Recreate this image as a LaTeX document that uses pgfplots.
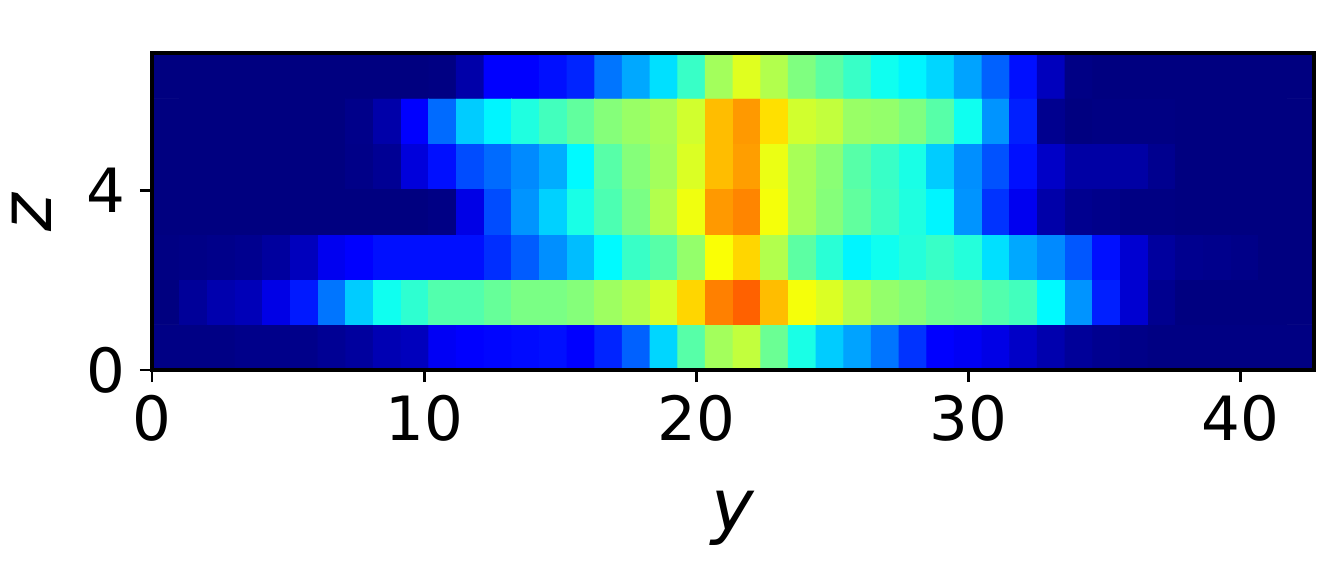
\documentclass[border=0pt]{standalone}
\usepackage{pgfplots}
\usepackage{fontspec}
\setmainfont{DejaVu Sans}
\pgfplotsset{compat=1.18}
\begin{document}
\begin{tikzpicture}
\path[use as bounding box] (-76pt,-105pt) rectangle (588pt,185pt);
\begin{axis}[
  scale only axis, width=581pt, height=158.5pt,
  xmin=0, xmax=42.7, ymin=0, ymax=7.05,
  axis on top, axis line style={line width=1.7pt},
  xtick={0,10,20,30,40}, ytick={0,4},
  tick align=outside, xtick pos=bottom, ytick pos=left,
  major tick style={line width=1.4pt, black},
  major tick length=6pt,
  /pgf/number format/assume math mode=true,
  tick label style={font=\fontsize{30.5}{30.5}\selectfont},
  xticklabel style={yshift=-3pt},
  yticklabel style={xshift=-4pt},
  xlabel={\textit{y}}, ylabel={\textit{z}},
  label style={font=\fontsize{36}{36}\selectfont},
  xlabel style={at={(axis description cs:0.5,0)},anchor=center,yshift=-74pt},
  ylabel style={at={(axis description cs:0,0.5)},anchor=center,yshift=60pt},
  colormap/jet, point meta min=0, point meta max=1,
]
\addplot[matrix plot*, mesh/cols=42, mesh/rows=7, point meta=explicit] coordinates {
(0.51,0.504)[.005] (1.53,0.504)[.005] (2.54,0.504)[.005] (3.56,0.504)[.01] (4.58,0.504)[.01] (5.59,0.504)[.01] (6.61,0.504)[.02] (7.63,0.504)[.03] (8.64,0.504)[.05] (9.66,0.504)[.06] (10.68,0.504)[.115] (11.69,0.504)[.125] (12.71,0.504)[.13] (13.73,0.504)[.135] (14.74,0.504)[.14] (15.76,0.504)[.125] (16.78,0.504)[.16] (17.79,0.504)[.22] (18.81,0.504)[.335] (19.83,0.504)[.46] (20.84,0.504)[.535] (21.86,0.504)[.565] (22.88,0.504)[.48] (23.89,0.504)[.4] (24.91,0.504)[.325] (25.93,0.504)[.285] (26.94,0.504)[.24] (27.96,0.504)[.175] (28.98,0.504)[.125] (29.99,0.504)[.115] (31.01,0.504)[.1] (32.03,0.504)[.07] (33.04,0.504)[.045] (34.06,0.504)[.025] (35.08,0.504)[.015] (36.09,0.504)[.008] (37.11,0.504)[.003] (38.13,0.504)[.003] (39.14,0.504)[.003] (40.16,0.504)[.003] (41.18,0.504)[.003] (42.19,0.504)[.003]
(0.51,1.511)[0] (1.53,1.511)[.025] (2.54,1.511)[.045] (3.56,1.511)[.055] (4.58,1.511)[.1] (5.59,1.511)[.15] (6.61,1.511)[.24] (7.63,1.511)[.325] (8.64,1.511)[.39] (9.66,1.511)[.42] (10.68,1.511)[.455] (11.69,1.511)[.455] (12.71,1.511)[.475] (13.73,1.511)[.495] (14.74,1.511)[.495] (15.76,1.511)[.505] (16.78,1.511)[.53] (17.79,1.511)[.55] (18.81,1.511)[.585] (19.83,1.511)[.665] (20.84,1.511)[.75] (21.86,1.511)[.78] (22.88,1.511)[.69] (23.89,1.511)[.615] (24.91,1.511)[.59] (25.93,1.511)[.55] (26.94,1.511)[.52] (27.96,1.511)[.505] (28.98,1.511)[.485] (29.99,1.511)[.48] (31.01,1.511)[.455] (32.03,1.511)[.44] (33.04,1.511)[.37] (34.06,1.511)[.27] (35.08,1.511)[.155] (36.09,1.511)[.08] (37.11,1.511)[.015] (38.13,1.511)[0] (39.14,1.511)[0] (40.16,1.511)[0] (41.18,1.511)[0] (42.19,1.511)[0]
(0.51,2.518)[.003] (1.53,2.518)[.006] (2.54,2.518)[.01] (3.56,2.518)[.015] (4.58,2.518)[.03] (5.59,2.518)[.06] (6.61,2.518)[.11] (7.63,2.518)[.125] (8.64,2.518)[.14] (9.66,2.518)[.14] (10.68,2.518)[.14] (11.69,2.518)[.14] (12.71,2.518)[.17] (13.73,2.518)[.215] (14.74,2.518)[.265] (15.76,2.518)[.31] (16.78,2.518)[.37] (17.79,2.518)[.43] (18.81,2.518)[.46] (19.83,2.518)[.52] (20.84,2.518)[.62] (21.86,2.518)[.665] (22.88,2.518)[.55] (23.89,2.518)[.465] (24.91,2.518)[.415] (25.93,2.518)[.365] (26.94,2.518)[.39] (27.96,2.518)[.41] (28.98,2.518)[.43] (29.99,2.518)[.41] (31.01,2.518)[.345] (32.03,2.518)[.29] (33.04,2.518)[.26] (34.06,2.518)[.21] (35.08,2.518)[.14] (36.09,2.518)[.08] (37.11,2.518)[.03] (38.13,2.518)[.015] (39.14,2.518)[.012] (40.16,2.518)[.008] (41.18,2.518)[0] (42.19,2.518)[0]
(0.51,3.525)[0] (1.53,3.525)[0] (2.54,3.525)[0] (3.56,3.525)[0] (4.58,3.525)[0] (5.59,3.525)[0] (6.61,3.525)[0] (7.63,3.525)[0] (8.64,3.525)[0] (9.66,3.525)[0] (10.68,3.525)[.005] (11.69,3.525)[.1] (12.71,3.525)[.2] (13.73,3.525)[.27] (14.74,3.525)[.33] (15.76,3.525)[.4] (16.78,3.525)[.45] (17.79,3.525)[.495] (18.81,3.525)[.55] (19.83,3.525)[.61] (20.84,3.525)[.725] (21.86,3.525)[.745] (22.88,3.525)[.615] (23.89,3.525)[.54] (24.91,3.525)[.505] (25.93,3.525)[.47] (26.94,3.525)[.435] (27.96,3.525)[.405] (28.98,3.525)[.365] (29.99,3.525)[.27] (31.01,3.525)[.175] (32.03,3.525)[.11] (33.04,3.525)[.04] (34.06,3.525)[.015] (35.08,3.525)[.01] (36.09,3.525)[.003] (37.11,3.525)[.003] (38.13,3.525)[0] (39.14,3.525)[0] (40.16,3.525)[0] (41.18,3.525)[0] (42.19,3.525)[0]
(0.51,4.532)[0] (1.53,4.532)[0] (2.54,4.532)[0] (3.56,4.532)[0] (4.58,4.532)[0] (5.59,4.532)[0] (6.61,4.532)[0] (7.63,4.532)[.008] (8.64,4.532)[.02] (9.66,4.532)[.09] (10.68,4.532)[.14] (11.69,4.532)[.2] (12.71,4.532)[.23] (13.73,4.532)[.26] (14.74,4.532)[.295] (15.76,4.532)[.37] (16.78,4.532)[.46] (17.79,4.532)[.505] (18.81,4.532)[.535] (19.83,4.532)[.59] (20.84,4.532)[.69] (21.86,4.532)[.72] (22.88,4.532)[.605] (23.89,4.532)[.54] (24.91,4.532)[.51] (25.93,4.532)[.46] (26.94,4.532)[.43] (27.96,4.532)[.4] (28.98,4.532)[.325] (29.99,4.532)[.265] (31.01,4.532)[.205] (32.03,4.532)[.14] (33.04,4.532)[.07] (34.06,4.532)[.035] (35.08,4.532)[.035] (36.09,4.532)[.035] (37.11,4.532)[.015] (38.13,4.532)[0] (39.14,4.532)[0] (40.16,4.532)[0] (41.18,4.532)[0] (42.19,4.532)[0]
(0.51,5.539)[0] (1.53,5.539)[0] (2.54,5.539)[0] (3.56,5.539)[0] (4.58,5.539)[0] (5.59,5.539)[0] (6.61,5.539)[0] (7.63,5.539)[.01] (8.64,5.539)[.04] (9.66,5.539)[.125] (10.68,5.539)[.23] (11.69,5.539)[.325] (12.71,5.539)[.365] (13.73,5.539)[.405] (14.74,5.539)[.44] (15.76,5.539)[.47] (16.78,5.539)[.505] (17.79,5.539)[.525] (18.81,5.539)[.54] (19.83,5.539)[.58] (20.84,5.539)[.69] (21.86,5.539)[.725] (22.88,5.539)[.655] (23.89,5.539)[.58] (24.91,5.539)[.565] (25.93,5.539)[.525] (26.94,5.539)[.52] (27.96,5.539)[.5] (28.98,5.539)[.46] (29.99,5.539)[.39] (31.01,5.539)[.27] (32.03,5.539)[.155] (33.04,5.539)[.015] (34.06,5.539)[0] (35.08,5.539)[.003] (36.09,5.539)[.003] (37.11,5.539)[.003] (38.13,5.539)[0] (39.14,5.539)[0] (40.16,5.539)[0] (41.18,5.539)[0] (42.19,5.539)[0]
(0.51,6.546)[0] (1.53,6.546)[0] (2.54,6.546)[0] (3.56,6.546)[0] (4.58,6.546)[0] (5.59,6.546)[0] (6.61,6.546)[0] (7.63,6.546)[0] (8.64,6.546)[0] (9.66,6.546)[0] (10.68,6.546)[.003] (11.69,6.546)[.04] (12.71,6.546)[.125] (13.73,6.546)[.125] (14.74,6.546)[.14] (15.76,6.546)[.16] (16.78,6.546)[.24] (17.79,6.546)[.29] (18.81,6.546)[.345] (19.83,6.546)[.43] (20.84,6.546)[.535] (21.86,6.546)[.595] (22.88,6.546)[.55] (23.89,6.546)[.5] (24.91,6.546)[.465] (25.93,6.546)[.43] (26.94,6.546)[.39] (27.96,6.546)[.365] (28.98,6.546)[.335] (29.99,6.546)[.285] (31.01,6.546)[.22] (32.03,6.546)[.14] (33.04,6.546)[.06] (34.06,6.546)[.005] (35.08,6.546)[0] (36.09,6.546)[0] (37.11,6.546)[0] (38.13,6.546)[0] (39.14,6.546)[0] (40.16,6.546)[0] (41.18,6.546)[0] (42.19,6.546)[0]
};
\end{axis}
\end{tikzpicture}
\end{document}
